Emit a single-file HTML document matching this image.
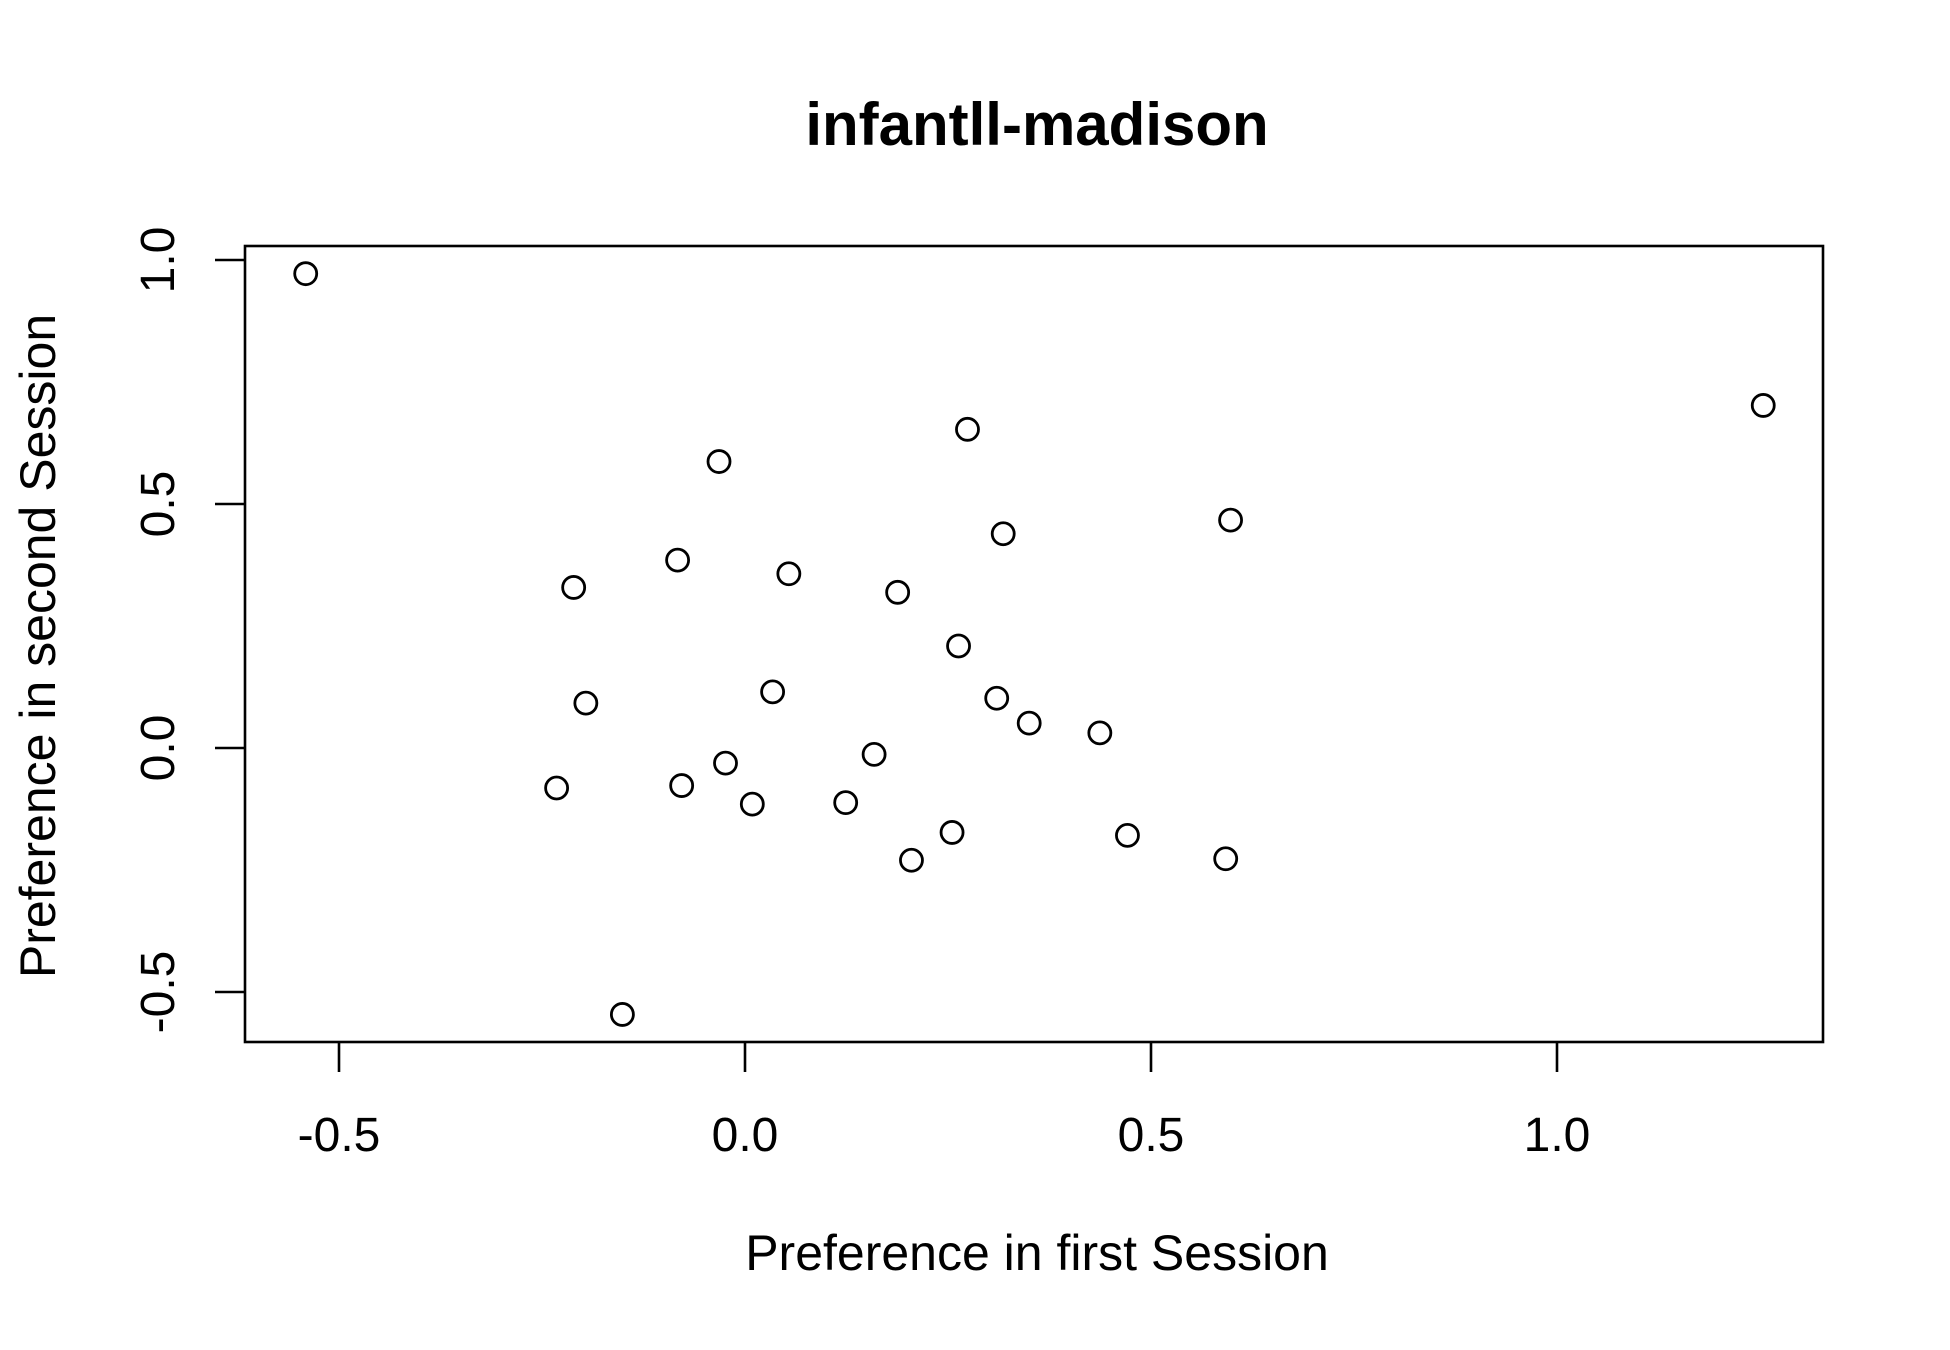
<!DOCTYPE html>
<html><head><meta charset="utf-8"><style>html,body{margin:0;padding:0;background:#fff}svg{display:block}</style></head>
<body>
<svg id="chart" width="1950" height="1350" viewBox="0 0 1950 1350" font-family="Liberation Sans, Arial, sans-serif">
<rect width="1950" height="1350" fill="#fff"/>
<text x="1037" y="145" text-anchor="middle" font-size="60" font-weight="bold">infantll-madison</text>
<rect x="245" y="246" width="1578" height="796" fill="none" stroke="#000" stroke-width="2.6"/>
<text x="1037" y="1270" text-anchor="middle" font-size="50">Preference in first Session</text>
<text transform="translate(55,646) rotate(-90)" text-anchor="middle" font-size="50">Preference in second Session</text>
<g id="xaxis"></g>
<g id="yaxis"></g>
<g id="points"></g>
</svg>
<script>
const xTicks = [-0.5, 0.0, 0.5, 1.0];
const xTickLabels = ["-0.5", "0.0", "0.5", "1.0"];
const yTicks = [-0.5, 0.0, 0.5, 1.0];
const yTickLabels = ["-0.5", "0.0", "0.5", "1.0"];
const xVals = [-0.541,1.254,0.274,-0.032,0.598,0.318,-0.083,-0.211,0.054,0.188,0.263,0.034,0.310,-0.196,0.350,0.437,0.159,-0.024,-0.232,-0.078,0.009,0.124,0.255,0.471,0.205,0.592,-0.151];
const yVals = [0.972,0.702,0.653,0.587,0.467,0.439,0.385,0.329,0.357,0.319,0.209,0.115,0.102,0.092,0.051,0.031,-0.013,-0.031,-0.082,-0.077,-0.115,-0.112,-0.173,-0.179,-0.230,-0.227,-0.546];
const NS = "http://www.w3.org/2000/svg";
function sx(v){ return 745 + v*812; }
function sy(v){ return 748 - v*488; }
function mk(tag, attrs, parent){ const e=document.createElementNS(NS,tag); for(const k in attrs) e.setAttribute(k,attrs[k]); parent.appendChild(e); return e; }
const xg=document.getElementById('xaxis'), yg=document.getElementById('yaxis'), pg=document.getElementById('points');
xTicks.forEach((t,i)=>{
  const l=mk('line',{x1:sx(t),x2:sx(t),y1:1042,y2:1072,stroke:'#000','stroke-width':2.6},xg);
  
  
  const tx=mk('text',{x:sx(t),y:1151,'text-anchor':'middle','font-size':48},xg);
  tx.textContent=xTickLabels[i];
  
  
});
yTicks.forEach((t,i)=>{
  const l=mk('line',{x1:215,x2:245,y1:sy(t),y2:sy(t),stroke:'#000','stroke-width':2.6},yg);
  
  
  const tx=mk('text',{transform:`translate(174,${sy(t)}) rotate(-90)`,'text-anchor':'middle','font-size':48},yg);
  tx.textContent=yTickLabels[i];
  
  
});
xVals.forEach((v,i)=>{
  const c=mk('circle',{cx:sx(v),cy:sy(yVals[i]),r:11,fill:'none',stroke:'#000','stroke-width':2.8},pg);
  
  
});
</script>
</body></html>
